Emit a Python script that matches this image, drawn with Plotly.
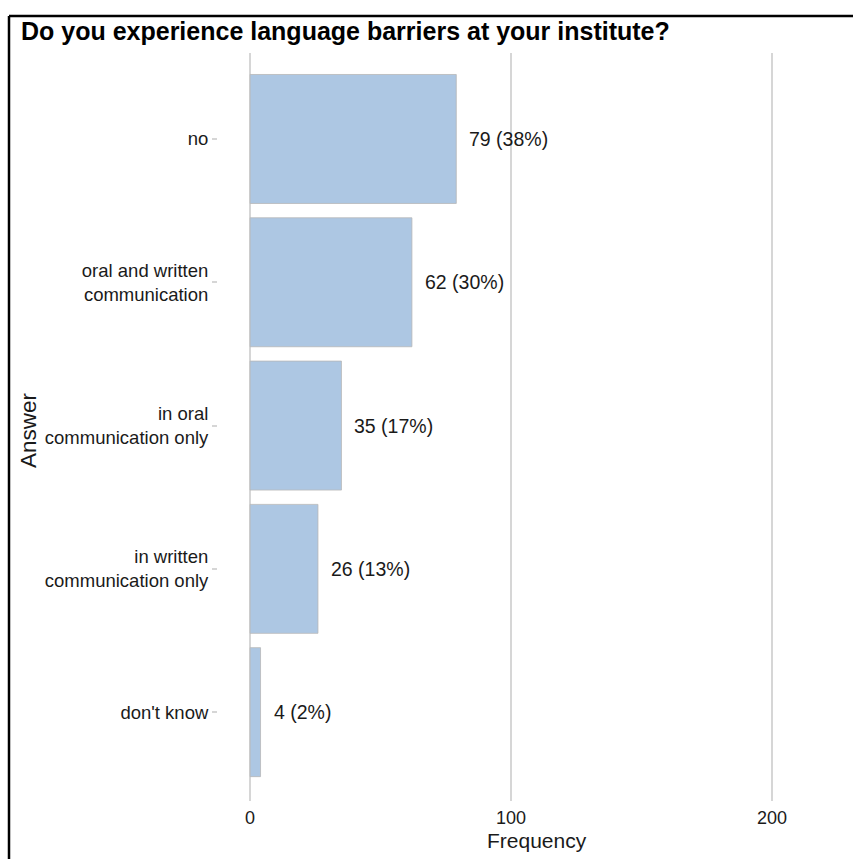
import plotly.graph_objects as go

# Survey answers and their counts
answers = [
    "no",
    "oral and written<br>communication",
    "in oral<br>communication only",
    "in written<br>communication only",
    "don't know",
]
counts = [79, 62, 35, 26, 4]
x_ticks = [0, 100, 200]

total = sum(counts)
labels = [f"{c} ({round(100 * c / total)}%)" for c in counts]

FONT = "Liberation Sans, Arial, sans-serif"

fig = go.Figure()
fig.add_trace(go.Bar(
    x=counts,
    y=answers,
    orientation="h",
    width=0.9,
    marker=dict(color="#adc7e3", line=dict(color="#b8b8b8", width=0.8)),
    hoverinfo="skip",
))

annotations = []
for a, c, lab in zip(answers, counts, labels):
    annotations.append(dict(
        x=c, y=a, xref="x", yref="y", text=lab, showarrow=False,
        xanchor="left", yanchor="middle", xshift=11,
        font=dict(family=FONT, size=19.5, color="#1a1a1a"),
    ))

# Title, axis titles (positions in pixels, converted below)
annotations.append(dict(
    x=19, y=859 - 31, text="<b>Do you experience language barriers at your institute?</b>",
    showarrow=False, xanchor="left", yanchor="middle",
    font=dict(family=FONT, size=25, color="black"),
))
annotations.append(dict(
    x=537, y=859 - 840, text="Frequency", showarrow=False,
    xanchor="center", yanchor="middle",
    font=dict(family=FONT, size=21, color="#1a1a1a"),
))
annotations.append(dict(
    x=28, y=859 - 430, text="Answer", showarrow=False, textangle=-90,
    xanchor="center", yanchor="middle",
    font=dict(family=FONT, size=22.5, color="#1a1a1a"),
))

L, R, T, B = 218, 0, 53, 58
W, H = 853, 859
pw, ph = W - L - R, H - T - B
for ann in annotations[len(counts):]:
    ann["xref"] = "paper"
    ann["yref"] = "paper"
    ann["x"] = (ann["x"] - L) / pw
    ann["y"] = (ann["y"] - B) / ph

# Frame lines on the left and top edges
shapes = [
    dict(type="line", xref="paper", yref="paper",
         x0=(9 - L) / pw, x1=(9 - L) / pw, y0=(0 - B) / ph, y1=(H - 16 - B) / ph,
         line=dict(color="black", width=2.5)),
    dict(type="line", xref="paper", yref="paper",
         x0=(9 - L) / pw, x1=(W + 5 - L) / pw, y0=(H - 16 - B) / ph, y1=(H - 16 - B) / ph,
         line=dict(color="black", width=2.5)),
]

fig.update_layout(
    width=W, height=H,
    margin=dict(l=L, r=R, t=T, b=B, pad=0),
    paper_bgcolor="white", plot_bgcolor="white",
    showlegend=False,
    annotations=annotations,
    shapes=shapes,
    bargap=0.1,
    xaxis=dict(
        range=[-12.3, 231],
        tickvals=x_ticks,
        ticks="", showgrid=True, gridcolor="#d6d6d6", gridwidth=2.2,
        zeroline=False, showline=False,
        tickfont=dict(family=FONT, size=18, color="#1a1a1a"),
        ticklabelstandoff=4,
    ),
    yaxis=dict(
        categoryorder="array", categoryarray=answers[::-1],
        range=[-0.62, 4.6],
        ticks="outside", ticklen=5, tickwidth=2, tickcolor="#d6d6d6",
        showgrid=False, zeroline=False, showline=False,
        tickfont=dict(family=FONT, size=18.5, color="#1a1a1a"),
        ticklabelstandoff=0,
    ),
    font=dict(family=FONT),
)

fig.write_html("out.html")
